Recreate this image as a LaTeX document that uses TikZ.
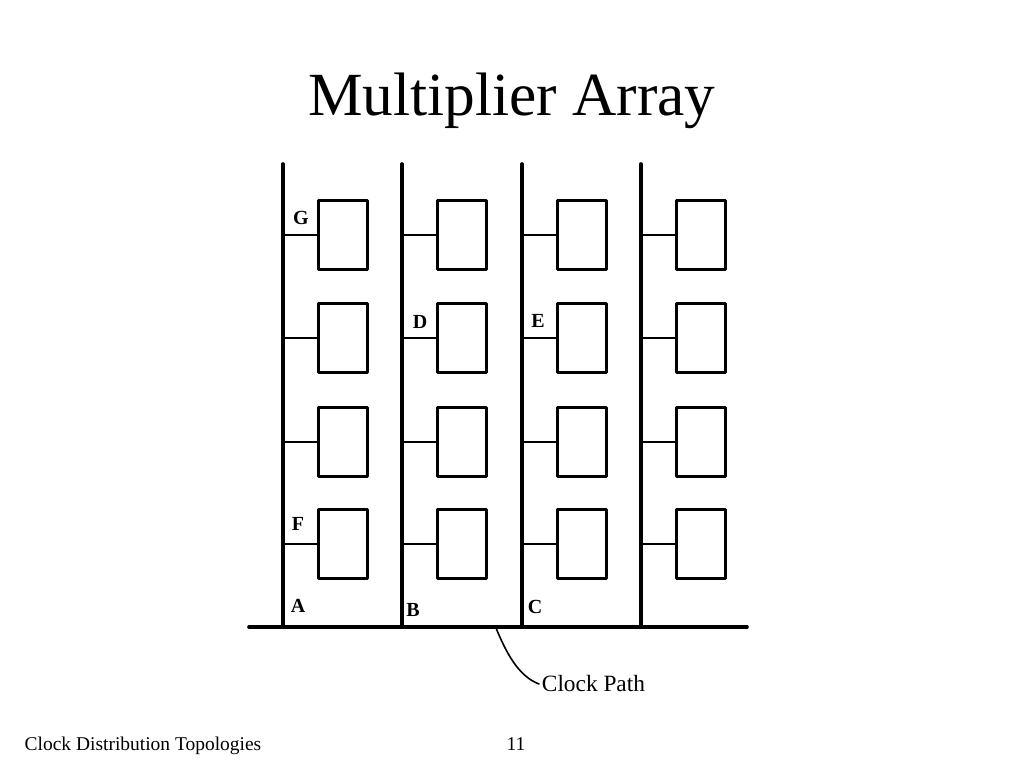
\documentclass[tikz,border=0pt]{standalone}
\usepackage{fontspec}
\setmainfont{Liberation Serif}
\begin{document}
\begin{tikzpicture}[x=0.75pt,y=-0.75pt,line join=round,line cap=round,
	cell/.style={draw,line width=2.2pt,minimum width=37pt,minimum height=52pt,inner sep=0pt},
	rail/.style={line width=2.7pt},
	stub/.style={line width=1.2pt},
	tag/.style={font=\bfseries\fontsize{15}{15}\selectfont,inner sep=0pt}]
	\useasboundingbox (0,0) rectangle (1024,768);
	\node[anchor=base] (title) at (512,115) {\fontsize{46}{46}\selectfont Multiplier Array};
	
	% clock rails and the cells hanging on them
	\foreach \c/\x in {1/283,2/402,3/522,4/641}{
		\coordinate (top-\c) at (\x,164);
		\coordinate (bot-\c) at (\x,627);
		\draw[rail] (top-\c) -- (bot-\c);
		\foreach \r/\y in {1/235,2/338,3/442,4/544}{
			\node[cell] (cell-\c-\r) at (\x+60,\y) {};
			\draw[stub] (cell-\c-\r.west) -- (cell-\c-\r.west -| top-\c);
		}
	}
	\coordinate (clk-l) at (249,627);
	\coordinate (clk-r) at (747,627);
	\draw[rail] (clk-l) -- (clk-r);
	
	\node[anchor=west,font=\fontsize{17.5}{17.5}\selectfont,inner sep=2pt] (clkpath) at (539,684) {Clock Path};
	\coordinate (tap) at (496,628);
	\draw[stub] (tap) .. controls (506,652) and (518,676) .. (clkpath.west);
	
	\foreach \p/\l in {{301,218}/G,{420,322}/D,{538,321}/E,{298,524}/F,{298,606}/A,{413,610}/B,{535,607}/C}
		\node[tag] (tag-\l) at (\p) {\l};
	
	\node[anchor=base west,font=\fontsize{14.6}{14.6}\selectfont] (foot) at (20,750) {Clock Distribution Topologies};
	\node[anchor=base,font=\fontsize{14.6}{14.6}\selectfont] (page) at (516,750) {11};
\end{tikzpicture}
\end{document}
